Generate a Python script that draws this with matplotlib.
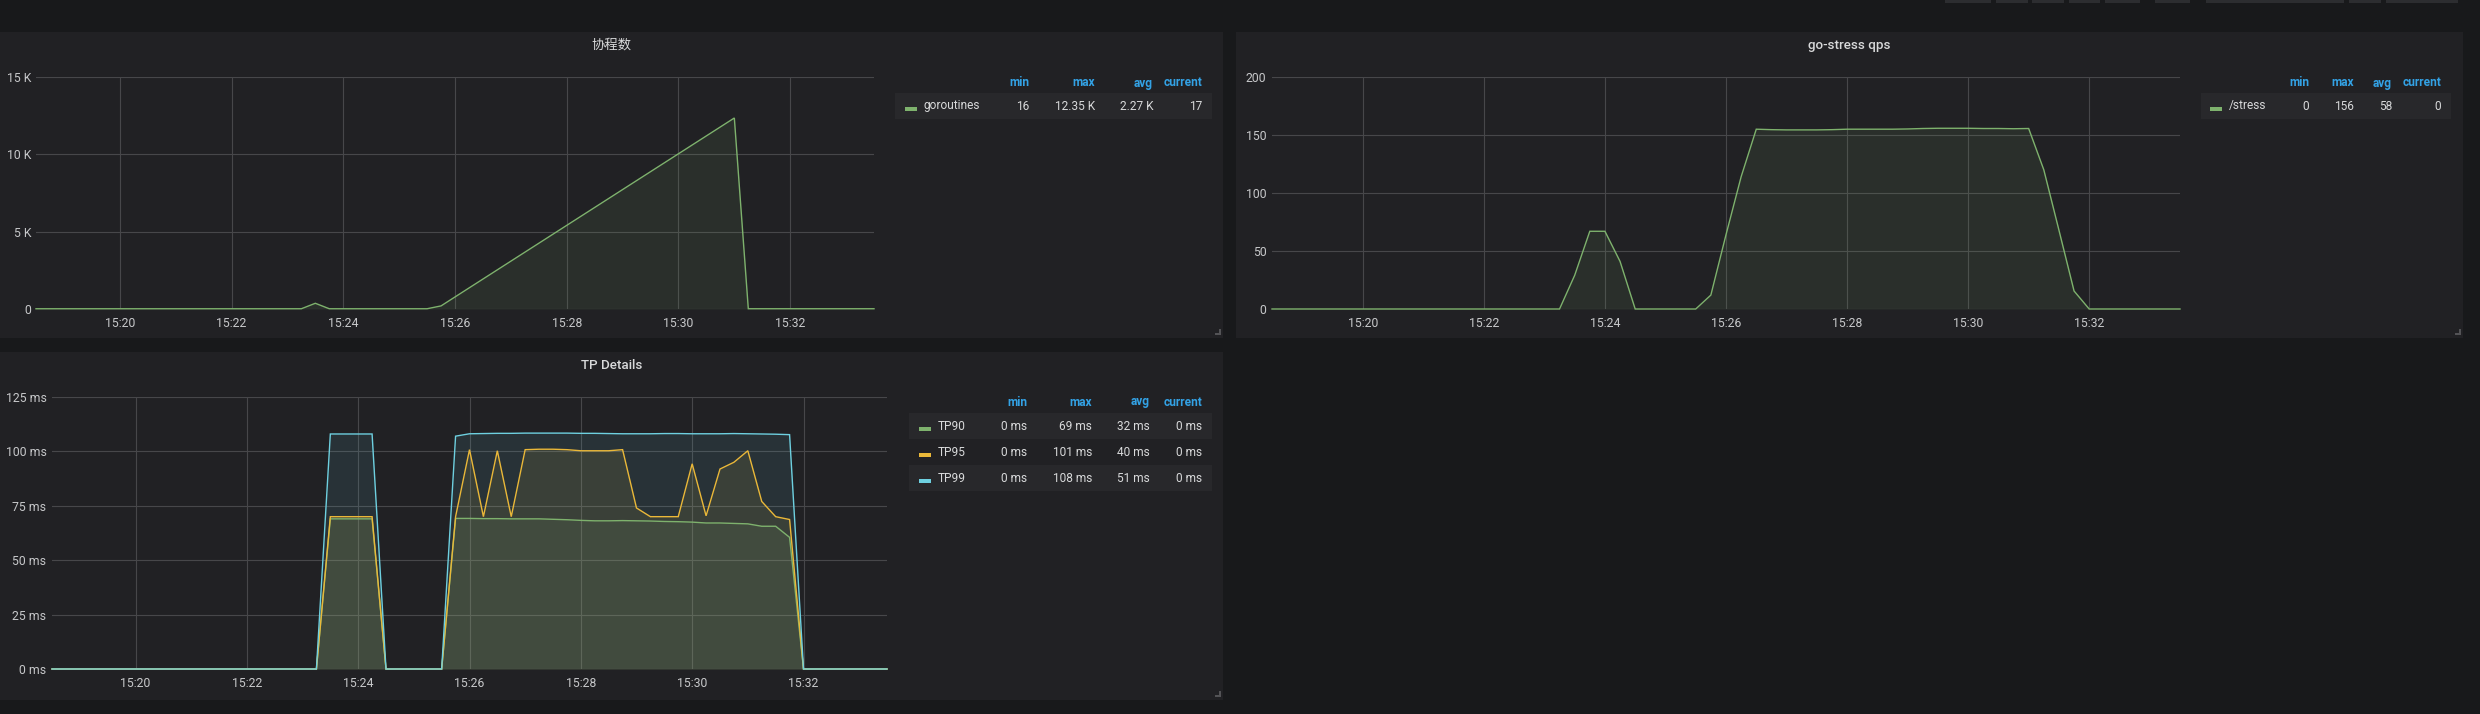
import matplotlib
matplotlib.use("Agg")
import matplotlib.pyplot as plt
import matplotlib.dates as mdates
from matplotlib.patches import Rectangle
from matplotlib.lines import Line2D
from matplotlib.transforms import Affine2D
from matplotlib.ticker import MultipleLocator, FuncFormatter
import pandas as pd

plt.rcParams['font.family'] = ['Roboto', 'Noto Sans CJK SC', 'DejaVu Sans']

# ---------------------------------------------------------------------------
# data (15 s samples)
# ---------------------------------------------------------------------------
t_range = ["15:18:30", "15:33:30"]

# goroutines: vertices of the curve
gor_times = ["15:18:30", "15:23:15", "15:23:30", "15:23:45", "15:25:30",
             "15:25:45", "15:31:00", "15:31:15", "15:33:30"]
gor_vals = [16, 16, 370, 16, 16, 200, 12350, 17, 17]

# common sample times for qps and TP series
t_main = ["15:18:30",
          "15:23:15", "15:23:30", "15:23:45", "15:24:00", "15:24:15", "15:24:30",
          "15:25:30", "15:25:45",
          "15:26:00", "15:26:15", "15:26:30", "15:26:45",
          "15:27:00", "15:27:15", "15:27:30", "15:27:45",
          "15:28:00", "15:28:15", "15:28:30", "15:28:45",
          "15:29:00", "15:29:15", "15:29:30", "15:29:45",
          "15:30:00", "15:30:15", "15:30:30", "15:30:45",
          "15:31:00", "15:31:15", "15:31:30", "15:31:45",
          "15:32:00", "15:33:30"]

qps = [0,
       0, 29, 67, 67, 41, 0,
       0, 12,
       64, 114, 155, 154.6,
       154.4, 154.4, 154.4, 154.6,
       155, 155, 155, 155,
       155.2, 155.6, 155.8, 155.8,
       155.8, 155.6, 155.6, 155.4,
       155.6, 120, 68, 15.5,
       0, 0]

tp90 = [0,
        0, 69, 69, 69, 69, 0,
        0, 69.2,
        69.2, 69.1, 69.1, 69.0,
        69.0, 69.0, 68.8, 68.6,
        68.3, 68.1, 68.1, 68.2,
        68.1, 68.0, 67.8, 67.7,
        67.5, 67.1, 67.1, 66.9,
        66.7, 65.6, 65.6, 60.5,
        0, 0]

tp95 = [0,
        0, 70, 70, 70, 70, 0,
        0, 70,
        100.8, 70, 100.3, 70,
        100.8, 101, 101, 100.8,
        100.3, 100.3, 100.3, 100.8,
        74, 70, 70, 70,
        94.3, 70.4, 91.9, 95,
        100.3, 77, 70, 68.7,
        0, 0]

tp99 = [0,
        0, 108, 108, 108, 108, 0,
        0, 107.0,
        108.1, 108.2, 108.3, 108.3,
        108.4, 108.4, 108.4, 108.4,
        108.3, 108.3, 108.2, 108.1,
        108.1, 108.1, 108.2, 108.2,
        108.1, 108.1, 108.1, 108.2,
        108.1, 108.0, 107.9, 107.7,
        0, 0]

legend_cols = ["min", "max", "avg", "current"]
gor_legend = [("goroutines", ["16", "12.35 K", "2.27 K", "17"])]
qps_legend = [("/stress", ["0", "156", "58", "0"])]
tp_legend = [("TP90", ["0 ms", "69 ms", "32 ms", "0 ms"]),
             ("TP95", ["0 ms", "101 ms", "40 ms", "0 ms"]),
             ("TP99", ["0 ms", "108 ms", "51 ms", "0 ms"])]

GREEN, YELLOW, CYAN = "#7eb26d", "#eab839", "#6ed0e0"
PAGE, PANEL, ROW = "#18191b", "#212124", "#28282b"
TXT, HEAD, GRID = "#d8d9da", "#33a2e5", "#47474a"

# ---------------------------------------------------------------------------
W, H = 2480, 714
fig = plt.figure(figsize=(W / 100, H / 100), dpi=100, facecolor=PAGE)
px = Affine2D().scale(1 / W, -1 / H).translate(0, 1) + fig.transFigure


def to_dt(lst):
    return pd.to_datetime(lst, format="%H:%M:%S")


def panel(x0, y0, x1, y1, title):
    fig.patches.append(Rectangle((x0, y0), x1 - x0, y1 - y0, transform=px,
                                 facecolor=PANEL, edgecolor="none", zorder=-2))
    fig.text((x0 + x1) / 2, y0 + 13.5, title, transform=px, ha="center",
             va="center", color=TXT, fontsize=9.6, fontweight="medium")
    # resize handle
    for xs, ys in [([x1 - 7, x1 - 3], [y1 - 4, y1 - 4]),
                   ([x1 - 3, x1 - 3], [y1 - 4, y1 - 8])]:
        fig.lines.append(Line2D(xs, ys, transform=px, color="#555558", lw=1.4))


def make_axes(x0, y0, x1, y1, top, step, fmt, ypad):
    ax = fig.add_axes([x0 / W, 1 - y1 / H, (x1 - x0) / W, (y1 - y0) / H])
    ax.set_facecolor("none")
    for s in ax.spines.values():
        s.set_visible(False)
    ax.set_xlim(to_dt(t_range))
    ax.set_ylim(0, top)
    ax.yaxis.set_major_locator(MultipleLocator(step))
    ax.yaxis.set_major_formatter(FuncFormatter(fmt))
    ax.xaxis.set_major_locator(mdates.MinuteLocator(byminute=range(0, 60, 2)))
    ax.xaxis.set_major_formatter(mdates.DateFormatter("%H:%M"))
    ax.tick_params(length=0, colors="#c7c8ca", labelsize=8.8)
    ax.tick_params(axis="x", pad=5.5)
    ax.tick_params(axis="y", pad=ypad)
    ax.grid(True, color=GRID, lw=0.8)
    ax.set_axisbelow(True)
    return ax


def series(ax, times, vals, color):
    t = to_dt(times)
    ax.fill_between(t, vals, 0, color=color, alpha=0.1, lw=0)
    ax.plot(t, vals, color=color, lw=1.0, clip_on=False, solid_joinstyle="miter")


def legend(rows, colors, col_right, name_x, head_y, row_x0, row_x1, row_y0, row_h):
    for c, xr in zip(legend_cols, col_right):
        fig.text(xr, head_y, c, transform=px, ha="right", va="center",
                 color=HEAD, fontsize=8.6, fontweight="bold")
    for i, ((name, vals), col) in enumerate(zip(rows, colors)):
        ry = row_y0 + i * row_h
        if i % 2 == 0:
            fig.patches.append(Rectangle((row_x0, ry), row_x1 - row_x0, row_h,
                                         transform=px, facecolor=ROW,
                                         edgecolor="none", zorder=-1))
        cy = ry + row_h / 2
        fig.patches.append(Rectangle((name_x - 19, cy + 1), 12, 4, transform=px,
                                     facecolor=col, edgecolor="none", zorder=1))
        fig.text(name_x, cy, name, transform=px, ha="left", va="center",
                 color=TXT, fontsize=8.6)
        for v, xr in zip(vals, col_right):
            fig.text(xr, cy, v, transform=px, ha="right", va="center",
                     color=TXT, fontsize=8.6)


# toolbar buttons peeking at the top edge
for bx0, bx1 in [(1945, 1991), (1996, 2028), (2032, 2064), (2069, 2100),
                 (2105, 2140), (2155, 2190), (2206, 2344), (2349, 2381),
                 (2386, 2458)]:
    fig.patches.append(Rectangle((bx0, 0), bx1 - bx0, 3, transform=px,
                                 facecolor="#2c2d30", edgecolor="none",
                                 zorder=-1))

# =============================================================================
#  Panel 1: 协程数
# =============================================================================
panel(0, 32, 1223, 338, "协程数")
ax1 = make_axes(36, 77, 874, 309, 15000, 5000,
                lambda v, p: "0" if v == 0 else f"{v / 1000:g} K", 3.5)
series(ax1, gor_times, gor_vals, GREEN)
legend(gor_legend, [GREEN], [1029, 1095, 1153, 1202], 924, 83,
       895, 1212, 93, 26)

# =============================================================================
#  Panel 2: go-stress qps
# =============================================================================
panel(1236, 32, 2463, 338, "go-stress qps")
ax2 = make_axes(1272, 77, 2180, 309, 200, 50, lambda v, p: f"{v:g}", 4)
series(ax2, t_main, qps, GREEN)
legend(qps_legend, [GREEN], [2309, 2354, 2392, 2441], 2229, 83,
       2201, 2451, 93, 26)

# =============================================================================
#  Panel 3: TP Details
# =============================================================================
panel(0, 352, 1223, 700, "TP Details")
ax3 = make_axes(52, 397, 887, 669, 125, 25, lambda v, p: f"{v:g} ms", 4)
for vals, col in [(tp90, GREEN), (tp95, YELLOW), (tp99, CYAN)]:
    series(ax3, t_main, vals, col)
legend(tp_legend, [GREEN, YELLOW, CYAN], [1027, 1092, 1150, 1202], 938, 402,
       909, 1212, 413, 26)

fig.savefig("out.png", dpi=100, facecolor=PAGE)
